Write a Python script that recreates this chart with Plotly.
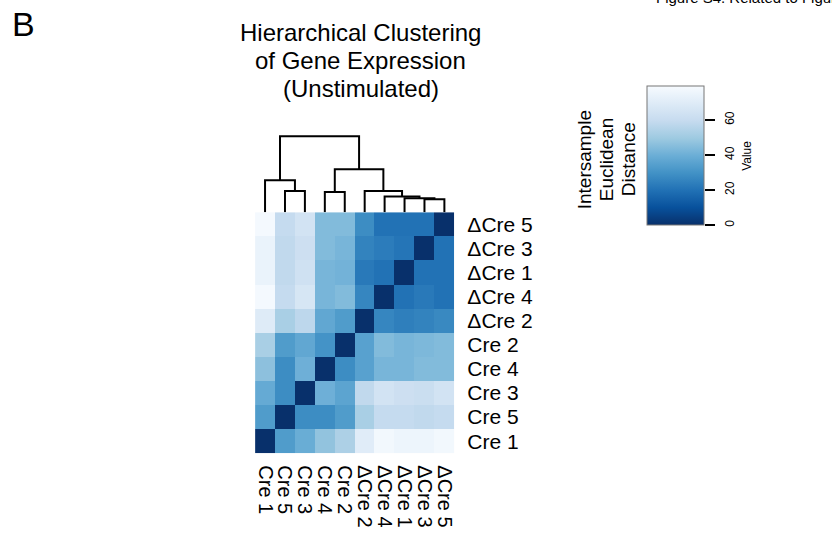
import plotly.graph_objects as go

# ---------------- data ----------------
labels = ["Cre 1", "Cre 5", "Cre 3", "Cre 4", "Cre 2",
          "ΔCre 2", "ΔCre 4", "ΔCre 1", "ΔCre 3", "ΔCre 5"]

# intersample euclidean distance, rows/cols in the order of `labels`
dist = [
    [0, 33, 39, 47, 53, 70, 77, 75, 75, 77],   # Cre 1
    [33, 0, 28, 28, 33, 52, 59, 59, 58, 59],   # Cre 5
    [38, 28, 0, 40, 36, 58, 64, 62, 61, 64],   # Cre 3
    [46, 28, 40, 0, 28, 35, 42, 42, 44, 44],   # Cre 4
    [52, 33, 37, 30, 0, 35, 44, 42, 43, 44],   # Cre 2
    [69, 52, 57, 37, 33, 0, 26, 24, 25, 27],   # ΔCre 2
    [78, 59, 66, 42, 44, 26, 0, 20, 22, 20],   # ΔCre 4
    [74, 58, 63, 42, 41, 22, 20, 0, 20, 20],   # ΔCre 1
    [74, 58, 62, 44, 42, 25, 23, 21, 0, 20],   # ΔCre 3
    [78, 59, 64, 44, 44, 28, 20, 20, 20, 0],   # ΔCre 5
]

# dendrogram merges: (left id, right id, height); leaves are 0..9, new clusters 10..
merges = [
    (8, 9, 13.0),
    (7, 10, 14.0),
    (6, 11, 15.7),
    (5, 12, 21.3),
    (3, 4, 20.3),
    (1, 2, 21.3),
    (0, 15, 32.0),
    (14, 13, 43.0),
    (16, 17, 76.3),
]

cbar_ticks = [0, 20, 40, 60]
z_max = 79

title_lines = ["Hierarchical Clustering", "of Gene Expression", "(Unstimulated)"]
cbar_title_lines = ["Intersample", "Euclidean", "Distance"]

# ---------------- layout geometry (pixels) ----------------
W, H = 832, 537
hm_left, hm_right, hm_top, hm_bottom = 255, 455, 213, 455
dend_px = 80
cb_left, cb_right, cb_top, cb_bottom = 648, 705, 87, 226


def px_x(x):
    return x / W


def px_y(y):
    return (H - y) / H


FONT = "Liberation Sans, Arial, sans-serif"

blues_r = ["#08306b", "#08519c", "#2171b5", "#4292c6", "#6baed6",
           "#9ecae1", "#c6dbef", "#deebf7", "#f7fbff"]
colorscale = [[i / (len(blues_r) - 1), c] for i, c in enumerate(blues_r)]

fig = go.Figure()

n = len(labels)
fig.add_trace(go.Heatmap(
    z=dist, x=list(range(n)), y=list(range(n)),
    colorscale=colorscale, zmin=0, zmax=z_max,
    xgap=0, ygap=0,
    colorbar=dict(
        x=px_x(cb_left), xanchor="left", xpad=0,
        y=px_y((cb_top + cb_bottom) / 2), yanchor="middle", ypad=0,
        thickness=cb_right - cb_left, thicknessmode="pixels",
        len=cb_bottom - cb_top, lenmode="pixels",
        outlinewidth=1, outlinecolor="#777777",
        ticks="", showticklabels=False,
    ),
    hoverinfo="skip",
))

# dendrogram from merges
pos = {i: (float(i), 0.0) for i in range(n)}
xs, ys = [], []
next_id = n
for a, b, h in merges:
    xa, ha = pos[a]
    xb, hb = pos[b]
    xs += [xa, xa, xb, xb, None]
    ys += [ha, h, h, hb, None]
    pos[next_id] = ((xa + xb) / 2, h)
    next_id += 1

fig.add_trace(go.Scatter(x=xs, y=ys, mode="lines",
                         line=dict(color="black", width=2),
                         xaxis="x2", yaxis="y2", hoverinfo="skip",
                         showlegend=False, cliponaxis=False))

# empty trace so the colour-scale axis (y3) gets drawn
fig.add_trace(go.Scatter(x=[None], y=[None], xaxis="x3", yaxis="y3",
                         mode="markers", showlegend=False, hoverinfo="skip"))

hm_dom_x = [px_x(hm_left), px_x(hm_right)]
fig.update_layout(
    width=W, height=H,
    margin=dict(l=0, r=0, t=0, b=0),
    paper_bgcolor="white", plot_bgcolor="rgba(0,0,0,0)",
    font=dict(family=FONT, color="black"),
    showlegend=False,
    xaxis=dict(domain=hm_dom_x, range=[-0.5, n - 0.5],
               tickvals=list(range(n)), ticktext=labels,
               tickangle=90, tickfont=dict(size=20, family=FONT, color="black"),
               ticks="", showgrid=False, zeroline=False, showline=False,
               ticklabelstandoff=11),
    yaxis=dict(domain=[px_y(hm_bottom), px_y(hm_top)], range=[-0.5, n - 0.5],
               side="right",
               tickvals=list(range(n)), ticktext=labels,
               tickfont=dict(size=21, family=FONT, color="black"),
               ticks="", showgrid=False, zeroline=False, showline=False,
               ticklabelstandoff=12),
    xaxis2=dict(domain=hm_dom_x, range=[-0.5, n - 0.5], anchor="y2",
                visible=False),
    yaxis2=dict(domain=[px_y(hm_top), px_y(hm_top - dend_px)],
                range=[0, dend_px], anchor="x2", visible=False),
    xaxis3=dict(domain=[px_x(cb_left), px_x(cb_right)], range=[0, 1],
                anchor="y3", visible=False),
    yaxis3=dict(domain=[px_y(cb_bottom), px_y(cb_top)], range=[0, z_max],
                anchor="free", position=px_x(cb_right + 0.5), side="right",
                showgrid=False, zeroline=False, showline=False,
                tickvals=cbar_ticks, ticks="outside", ticklen=10, tickwidth=2,
                tickcolor="black", tickangle=-90,
                tickfont=dict(size=12, family=FONT, color="black"),
                ticklabelstandoff=5,
                title=dict(text="Value", standoff=6,
                           font=dict(size=12, family=FONT, color="black"))),
)

ann = []
ann.append(dict(text="B", x=px_x(9), y=px_y(24), xref="paper", yref="paper",
                xanchor="left", yanchor="middle", showarrow=False,
                font=dict(size=34, family=FONT, color="black")))
for t, yc in zip(title_lines, [32.5, 61, 88.5]):
    ann.append(dict(text=t, x=px_x(361), y=px_y(yc), xref="paper", yref="paper",
                    xanchor="center", yanchor="middle", showarrow=False,
                    font=dict(size=24, family=FONT, color="black")))
for t, xc in zip(cbar_title_lines, [586, 608, 630]):
    ann.append(dict(text=t, x=px_x(xc), y=px_y(160), xref="paper", yref="paper",
                    xanchor="center", yanchor="middle", showarrow=False,
                    textangle=-90,
                    font=dict(size=19, family=FONT, color="black")))
ann.append(dict(text="Figure S4. Related to Figure 4", x=px_x(655), y=px_y(-3),
                xref="paper", yref="paper", xanchor="left", yanchor="middle",
                showarrow=False, font=dict(size=15, family=FONT, color="black")))
fig.update_layout(annotations=ann)

fig.write_html("out.html")
